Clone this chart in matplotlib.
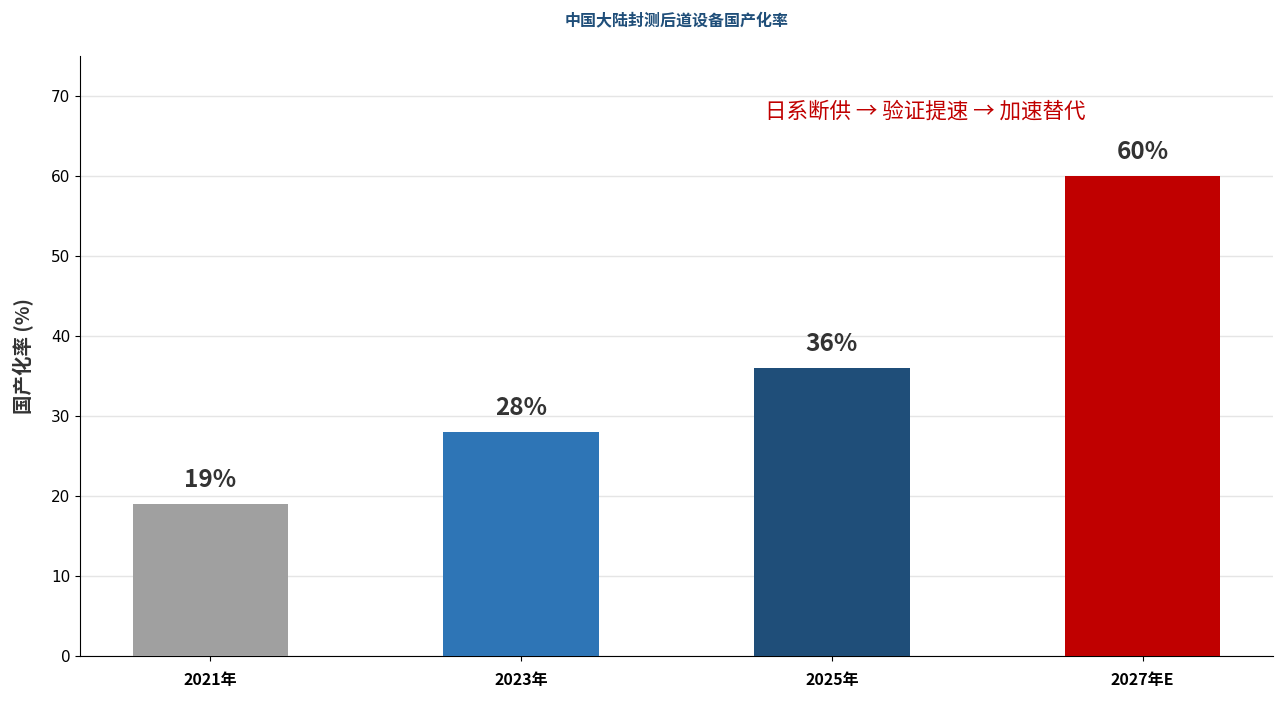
import matplotlib
matplotlib.use('Agg')
import matplotlib.pyplot as plt

plt.rcParams['font.family'] = ['Noto Sans CJK SC', 'DejaVu Sans']

years = ['2021年', '2023年', '2025年', '2027年E']
rates = [19, 28, 36, 60]
colors = ['#a0a0a0', '#2e75b6', '#1f4e79', '#c00000']

fig = plt.figure(figsize=(12.87, 7.01), dpi=100)
ax = fig.add_axes([80 / 1287, 45 / 701, 1193 / 1287, 600 / 701])

x = range(len(years))
ax.bar(x, rates, width=0.5, color=colors, zorder=3)
for i, v in zip(x, rates):
    ax.text(i, v + 1.5, f'{v}%', ha='center', va='bottom', fontsize=17.5,
            fontweight='bold', color='#333333')

ax.set_xlim(-0.42, 3.42)
ax.set_ylim(0, 75)
ax.set_yticks(range(0, 71, 10))
ax.set_yticklabels([str(t) for t in range(0, 71, 10)], family='DejaVu Sans', fontsize=11)
ax.set_xticks(list(x))
ax.set_xticklabels(years, fontsize=11.5, fontweight='bold')
ax.tick_params(axis='x', pad=8)
ax.set_ylabel('国产化率 (%)', fontsize=14, fontweight='bold', color='#333333', labelpad=12)
ax.grid(axis='y', color='#e5e5e5', linewidth=1, zorder=0)
ax.spines['top'].set_visible(False)
ax.spines['right'].set_visible(False)

ax.text(1.785, 68.1, '日系断供 → 验证提速 → 加速替代', fontsize=15.5,
        color='#c00000', ha='left', va='center')
ax.set_title('中国大陆封测后道设备国产化率', fontsize=11.5, fontweight='bold',
             color='#1f4e79', pad=22)

fig.savefig('out.png', dpi=100)
